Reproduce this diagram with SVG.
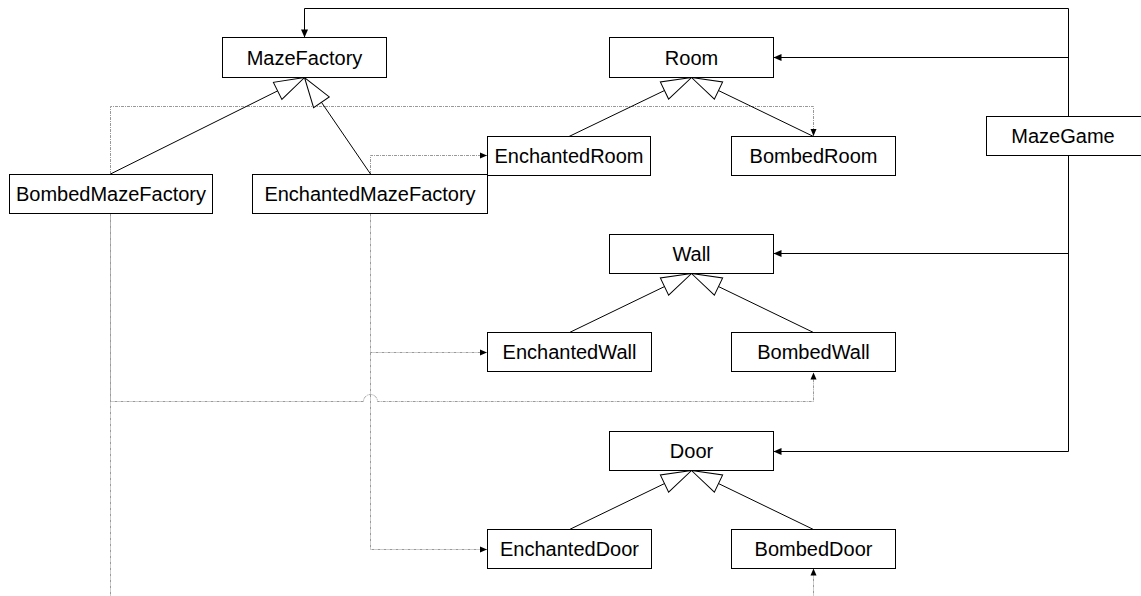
<svg xmlns="http://www.w3.org/2000/svg" width="1141" height="596" viewBox="0 0 1141 596">
  <style>
    .box rect { fill: #fff; stroke: #000; stroke-width: 1; }
    .box text { font-family: "Liberation Sans", Arial, sans-serif; font-size: 20px; fill: #000; text-anchor: middle; dominant-baseline: central; }
    .assoc { fill: none; stroke: #000; stroke-width: 1; marker-end: url(#arrow); }
    .gen { fill: none; stroke: #000; stroke-width: 1; marker-end: url(#hollow); }
    .dep { fill: none; stroke: #999; stroke-width: 1; stroke-dasharray: 3 1 1 1; marker-end: url(#arrowSmall); }
  </style>
  <defs>
    <marker id="arrow" markerUnits="userSpaceOnUse" viewBox="-10 -5 11 10" markerWidth="11" markerHeight="10" refX="0" refY="0" orient="auto">
      <path d="M0,0 L-8,-3.5 L-8,3.5 Z" fill="#000"/>
    </marker>
    <marker id="arrowSmall" markerUnits="userSpaceOnUse" viewBox="-10 -5 11 10" markerWidth="11" markerHeight="10" refX="0" refY="0" orient="auto">
      <path d="M0,0 L-7,-3 L-7,3 Z" fill="#000"/>
    </marker>
    <marker id="hollow" markerUnits="userSpaceOnUse" viewBox="-32 -11 33 22" markerWidth="33" markerHeight="22" refX="0" refY="0" orient="auto">
      <path d="M0,0 L-30,-9.5 L-30,9.5 Z" fill="#fff" stroke="#000" stroke-width="1"/>
    </marker>
  </defs>

  <!-- dependency (create) connectors -->
  <g id="connectors-dependency">
    <path class="dep" d="M110.5,174 V106.5 H813.5 V136"/>
    <path class="dep" d="M370.5,174 V155.5 H487"/>
    <path class="dep" d="M370.5,213.5 V352.5 H487"/>
    <path class="dep" d="M370.5,352.5 V549.5 H487"/>
    <path class="dep" d="M110.5,213.5 V401.5 H363.5 A7,7 0 0 1 377.5,401.5 H813.5 V372.5"/>
    <path class="dep" d="M110.5,213.5 V640 H813.5 V568.5"/>
  </g>

  <!-- inheritance and association connectors -->
  <g id="connectors">
    <path class="gen" d="M110.5,174 L304.5,77.5"/>
    <path class="gen" d="M370.5,174 L304.5,77.5"/>
    <path class="gen" d="M569,136.5 L691.5,77.5"/>
    <path class="gen" d="M813.5,136.5 L691.5,77.5"/>
    <path class="gen" d="M569.5,332.5 L691.5,273.5"/>
    <path class="gen" d="M813.5,332.5 L691.5,273.5"/>
    <path class="gen" d="M569.5,529.5 L691.5,470.5"/>
    <path class="gen" d="M813.5,529.5 L691.5,470.5"/>
    <path class="assoc" d="M1068.5,116.5 V8.5 H304.5 V37.5"/>
    <path class="assoc" d="M1068.5,116.5 V57.5 H773.5"/>
    <path class="assoc" d="M1068.5,155.5 V253.5 H773.5"/>
    <path class="assoc" d="M1068.5,155.5 V451.5 H773.5"/>
  </g>

  <g id="MazeFactory" class="box"><rect x="222.5" y="37.5" width="164" height="40"/><text x="304.5" y="57.5">MazeFactory</text></g>
  <g id="Room" class="box"><rect x="609.5" y="37.5" width="164" height="40"/><text x="691.5" y="57.5">Room</text></g>
  <g id="MazeGame" class="box"><rect x="986.5" y="116.5" width="156" height="39"/><text x="1063" y="136">MazeGame</text></g>
  <g id="BombedMazeFactory" class="box"><rect x="9.5" y="174.5" width="203" height="39"/><text x="111" y="194">BombedMazeFactory</text></g>
  <g id="EnchantedMazeFactory" class="box"><rect x="252.5" y="174.5" width="235" height="39"/><text x="370" y="194">EnchantedMazeFactory</text></g>
  <g id="EnchantedRoom" class="box"><rect x="487.5" y="136.5" width="163" height="39"/><text x="569" y="156">EnchantedRoom</text></g>
  <g id="BombedRoom" class="box"><rect x="731.5" y="136.5" width="164" height="39"/><text x="813.5" y="156">BombedRoom</text></g>
  <g id="Wall" class="box"><rect x="609.5" y="234.5" width="164" height="39"/><text x="691.5" y="254">Wall</text></g>
  <g id="EnchantedWall" class="box"><rect x="487.5" y="332.5" width="164" height="39"/><text x="569.5" y="352">EnchantedWall</text></g>
  <g id="BombedWall" class="box"><rect x="731.5" y="332.5" width="164" height="39"/><text x="813.5" y="352">BombedWall</text></g>
  <g id="Door" class="box"><rect x="609.5" y="431.5" width="164" height="39"/><text x="691.5" y="451">Door</text></g>
  <g id="EnchantedDoor" class="box"><rect x="487.5" y="529.5" width="164" height="39"/><text x="569.5" y="549">EnchantedDoor</text></g>
  <g id="BombedDoor" class="box"><rect x="731.5" y="529.5" width="164" height="39"/><text x="813.5" y="549">BombedDoor</text></g>
</svg>
